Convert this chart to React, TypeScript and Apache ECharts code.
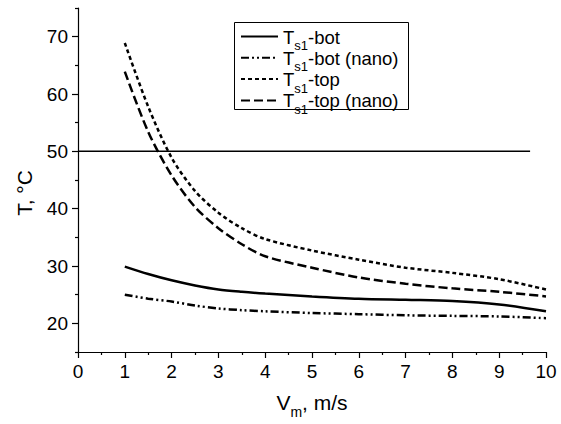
import React, { useEffect, useRef } from "react";
import * as echarts from "echarts";

const X_VALUES = [1, 1.5, 2, 2.5, 3, 3.5, 4, 5, 6, 7, 8, 9, 10];
const TOP = [68.9, 57.8, 48.9, 43.1, 39.3, 36.6, 34.7, 32.7, 31.1, 29.7, 28.8, 27.7, 25.9];
const TOP_NANO = [63.9, 53.4, 45.8, 40.3, 36.6, 33.8, 31.7, 29.7, 28.0, 26.9, 26.1, 25.5, 24.7];
const BOT = [29.9, 28.6, 27.5, 26.6, 25.9, 25.5, 25.2, 24.7, 24.3, 24.1, 23.9, 23.3, 22.1];
const BOT_NANO = [25.0, 24.3, 23.8, 23.1, 22.6, 22.3, 22.1, 21.8, 21.6, 21.4, 21.3, 21.2, 20.9];
const LIMIT_Y = 50;
const LIMIT_X = [0, 9.66];
const Y_LABELS = [20, 30, 40, 50, 60, 70];

const SERIES_NAMES = ["Ts1-bot", "Ts1-bot (nano)", "Ts1-top", "Ts1-top (nano)"];
const LEGEND_SUFFIX = ["-bot", "-bot (nano)", "-top", "-top (nano)"];

const FONT = "'Liberation Sans', Arial, sans-serif";

const pair = (ys: number[]) => X_VALUES.map((x, i) => [x, ys[i]]);

export default function App() {
  const ref = useRef<HTMLDivElement>(null);
  useEffect(() => {
    if (!ref.current) return;
    const chart = echarts.init(ref.current, null, { renderer: "svg" });
    const lineBase = { type: "line", smooth: 0.3, symbol: "none", yAxisIndex: 0 };
    const dashes: any[] = ["solid", [8, 3, 2, 3, 2, 3], [4, 3], [9, 4]];
    const datas = [BOT, BOT_NANO, TOP, TOP_NANO];
    chart.setOption({
      animation: false,
      backgroundColor: "#fff",
      textStyle: { fontFamily: FONT, color: "#000" },
      grid: { left: 78, right: 15, top: 8, bottom: 72 },
      legend: {
        orient: "vertical",
        left: 240,
        top: 20.5,
        padding: 0,
        itemGap: -10.7,
        itemWidth: 37,
        itemHeight: 14,
        itemStyle: { opacity: 0 },
        data: SERIES_NAMES,
        formatter: (name: string) => {
          const i = SERIES_NAMES.indexOf(name);
          return `{a|T}{b|s1}{a|${LEGEND_SUFFIX[i]}}`;
        },
        textStyle: {
          fontFamily: FONT,
          color: "#000",
          fontSize: 18.5,
          rich: {
            a: { fontFamily: FONT, fontSize: 18.5, lineHeight: 18, padding: [7, 0, 6, 0], color: "#000" },
            b: { fontFamily: FONT, fontSize: 13, lineHeight: 13, padding: [18, 0, 0, 0], color: "#000" },
          },
        },
      },
      graphic: [
        {
          type: "rect",
          shape: { x: 234.5, y: 22.5, width: 174, height: 87 },
          style: { fill: "none", stroke: "#000", lineWidth: 1 },
          silent: true,
        },
      ],
      xAxis: {
        type: "value",
        min: 0,
        max: 10,
        interval: 1,
        name: "{a|V}{b|m}{a|, m/s}",
        nameLocation: "middle",
        nameGap: 35,
        nameTextStyle: {
          rich: {
            a: { fontFamily: FONT, fontSize: 21, lineHeight: 21, padding: [6, 0, 6, 0], color: "#000" },
            b: { fontFamily: FONT, fontSize: 14, lineHeight: 14, padding: [19, 0, 0, 0], color: "#000" },
          },
        },
        axisLine: { onZero: false, lineStyle: { color: "#000", width: 1.2 } },
        axisTick: { show: true, length: 6, inside: false, lineStyle: { color: "#000", width: 1.2 } },
        minorTick: { show: true, splitNumber: 2, length: 3, lineStyle: { color: "#000", width: 1.2 } },
        axisLabel: { margin: 10, fontSize: 19, color: "#000", fontFamily: FONT },
        splitLine: { show: false },
      },
      yAxis: [
        {
          type: "value",
          min: 15,
          max: 75,
          position: "left",
          name: "T, °C",
          nameLocation: "middle",
          nameGap: 43,
          nameTextStyle: { fontFamily: FONT, fontSize: 21, color: "#000", padding: [0, 26, 0, 0] },
          axisLine: { onZero: false, lineStyle: { color: "#000", width: 1.2 } },
          axisTick: { show: true, length: 6, customValues: Y_LABELS, lineStyle: { color: "#000", width: 1.2 } },
          axisLabel: { margin: 10, fontSize: 19, color: "#000", fontFamily: FONT, customValues: Y_LABELS },
          splitLine: { show: false },
        },
        {
          type: "value",
          min: 15,
          max: 75,
          interval: 10,
          position: "left",
          offset: 0,
          axisLine: { show: false },
          axisTick: { show: true, length: 3, lineStyle: { color: "#000", width: 1.2 } },
          axisLabel: { show: false },
          splitLine: { show: false },
        },
      ],
      series: [
        ...SERIES_NAMES.map((name, i) => ({
          ...lineBase,
          name,
          data: pair(datas[i]),
          lineStyle: { color: "#000", width: 2.5, type: dashes[i], cap: "butt" },
          itemStyle: { color: "#000" },
        })),
        {
          type: "line",
          name: "limit",
          symbol: "none",
          data: LIMIT_X.map((x) => [x, LIMIT_Y]),
          lineStyle: { color: "#000", width: 1.5 },
          itemStyle: { color: "#000" },
        },
      ],
    });
    return () => chart.dispose();
  }, []);
  return (
    <div
      ref={ref}
      style={{ position: "fixed", left: 0, top: 0, width: 561, height: 424, background: "#fff" }}
    />
  );
}
